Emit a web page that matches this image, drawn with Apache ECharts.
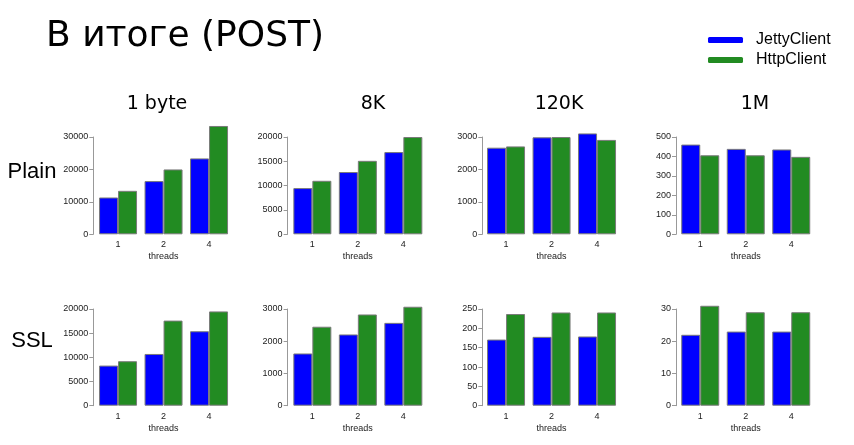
<!DOCTYPE html>
<html>
<head>
<meta charset="utf-8">
<script src="https://cdn.jsdelivr.net/npm/echarts@6/dist/echarts.min.js"></script>
<style>html,body{margin:0;padding:0;background:#fff}#c{width:854px;height:445px}</style>
</head>
<body>
<div id="c"></div>
<script>
// ---- data ----
const threads = ['1', '2', '4'];
const sizeLabels = ['1 byte', '8K', '120K', '1M'];
const rowLabels = ['Plain', 'SSL'];
const seriesNames = ['JettyClient', 'HttpClient'];

const plainJetty = [[11350, 16400, 23400], [9500, 12800, 16900], [2670, 2990, 3110], [461, 439, 436]];
const plainHttp  = [[13400, 20000, 33400], [11000, 15100, 20000], [2710, 3000, 2910], [406, 406, 398]];
const sslJetty   = [[8300, 10700, 15400], [1620, 2210, 2570], [171, 178, 179], [22, 23, 23]];
const sslHttp    = [[9200, 17600, 19500], [2450, 2830, 3070], [237, 241, 241], [31, 29, 29]];

const plainTicks = [[0, 10000, 20000, 30000], [0, 5000, 10000, 15000, 20000], [0, 1000, 2000, 3000], [0, 100, 200, 300, 400, 500]];
const sslTicks   = [[0, 5000, 10000, 15000, 20000], [0, 1000, 2000, 3000], [0, 50, 100, 150, 200, 250], [0, 10, 20, 30]];

// ---- layout ----
const gridLefts = [95.3, 289.6, 483.3, 677.5];
const axisOffsets = [2, 2, 1, 1.5];
const gridWidth = 136.5;
const rowTops = [137, 309];
const rowHeights = [97.3, 96.7];
const colors = ['#0000FF', '#228B22'];
const headerX = [157, 373, 559, 755];

const rowsData = [
  {jetty: plainJetty, http: plainHttp, ticks: plainTicks},
  {jetty: sslJetty, http: sslHttp, ticks: sslTicks}
];

const grids = [], xAxes = [], yAxes = [], series = [];
rowsData.forEach((row, r) => {
  for (let c = 0; c < 4; c++) {
    const idx = grids.length;
    const ticks = row.ticks[c];
    grids.push({left: gridLefts[c], top: rowTops[r], width: gridWidth, height: rowHeights[r], containLabel: false});
    xAxes.push({
      type: 'category', gridIndex: idx, data: threads,
      axisLine: {show: false}, axisTick: {show: false},
      axisLabel: {fontSize: 9, color: '#222', margin: 6, fontFamily: 'Liberation Sans'},
      name: 'threads', nameLocation: 'middle', nameGap: 18,
      nameTextStyle: {fontSize: 9, color: '#222', fontFamily: 'Liberation Sans'}
    });
    yAxes.push({
      type: 'value', gridIndex: idx, min: 0, max: ticks[ticks.length - 1], interval: ticks[1] - ticks[0],
      offset: axisOffsets[c],
      axisLine: {show: true, lineStyle: {color: '#999', width: 1}},
      axisTick: {show: true, length: 4, lineStyle: {color: '#999'}},
      splitLine: {show: false},
      axisLabel: {fontSize: 9, color: '#222', margin: 5, fontFamily: 'Liberation Sans', formatter: v => String(v)}
    });
    [row.jetty[c], row.http[c]].forEach((vals, s) => {
      series.push({
        type: 'bar', name: seriesNames[s], xAxisIndex: idx, yAxisIndex: idx,
        data: vals, clip: false, barGap: '0%', barCategoryGap: '16.5%',
        itemStyle: {color: colors[s], borderColor: '#7a7a7a', borderWidth: 1},
        emphasis: {disabled: true}, animation: false
      });
    });
  }
});

const graphics = [];
graphics.push({type: 'text', x: 46, y: 37, style: {text: 'В итоге (POST)', font: '36px "DejaVu Sans"', fill: '#000', textAlign: 'left', textVerticalAlign: 'middle', verticalAlign: 'middle'}});
sizeLabels.forEach((t, i) => {
  graphics.push({type: 'text', x: headerX[i], y: 104, style: {text: t, font: '19px "DejaVu Sans"', fill: '#000', textAlign: 'center', align: 'center', textVerticalAlign: 'middle', verticalAlign: 'middle'}});
});
const rowLabelY = [172, 341];
rowLabels.forEach((t, i) => {
  graphics.push({type: 'text', x: 32, y: rowLabelY[i], style: {text: t, font: '22px "Liberation Sans"', fill: '#000', textAlign: 'center', align: 'center', textVerticalAlign: 'middle', verticalAlign: 'middle'}});
});

const chart = echarts.init(document.getElementById('c'), null, {renderer: 'canvas'});
chart.setOption({
  animation: false,
  color: colors,
  grid: grids, xAxis: xAxes, yAxis: yAxes, series: series,
  legend: {
    data: seriesNames, orient: 'vertical', left: 708, top: 32, padding: 0,
    icon: 'roundRect', itemWidth: 35, itemHeight: 6, itemGap: 4,
    itemStyle: {borderWidth: 0},
    textStyle: {fontSize: 16, color: '#000', fontFamily: 'Liberation Sans', padding: [0, 0, 0, 8]},
    selectedMode: false
  },
  graphic: graphics
});
</script>
</body>
</html>
